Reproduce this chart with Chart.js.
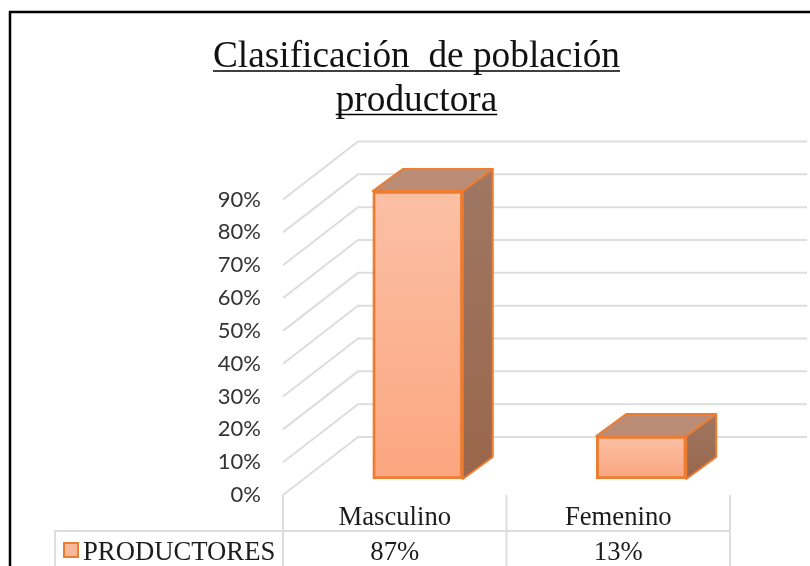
<!DOCTYPE html>
<html>
<head>
<meta charset="utf-8">
<style>html,body{margin:0;padding:0;background:#fff;overflow:hidden}#box{position:relative;width:810px;height:566px}</style>
<script src="https://cdn.jsdelivr.net/npm/chart.js@4"></script>
</head>
<body>
<div id="box"><canvas id="c" width="810" height="566"></canvas></div>
<script>
const titleLines = ['Clasificación  de población', 'productora'];
const categories = ['Masculino', 'Femenino'];
const seriesName = 'PRODUCTORES';
const seriesValues = [87, 13];
const axisTicks = [0, 10, 20, 30, 40, 50, 60, 70, 80, 90];

const SERIF = '"Liberation Serif","Times New Roman",serif';
const ORANGE = '#ED7D31';
const GRID = '#DDDDDD';
const TABLE_SHIFT = 23;            // table + wall start left of the bar slots
const WALL = {dx: 75, dy: 58, right: 807};
const BAR_DEPTH = {dx: 30, dy: 22};
const TABLE = {left: 55, rowTop: 531, axisTop: 495, bottom: 570};

function face(ctx, pts, fill) {
  ctx.beginPath();
  pts.forEach((p, i) => i ? ctx.lineTo(p[0], p[1]) : ctx.moveTo(p[0], p[1]));
  ctx.closePath();
  ctx.fillStyle = fill;
  ctx.fill();
  ctx.strokeStyle = ORANGE;
  ctx.lineWidth = 2;
  ctx.lineJoin = 'round';
  ctx.stroke();
}

const scene = {
  id: 'scene',
  beforeDatasetsDraw(chart) {
    const ctx = chart.ctx, y = chart.scales.y, area = chart.chartArea;
    ctx.save();
    // walls
    const x0 = area.left - TABLE_SHIFT, x1 = x0 + WALL.dx;
    ctx.strokeStyle = GRID;
    ctx.lineWidth = 2;
    axisTicks.forEach(t => {
      const py = y.getPixelForValue(t);
      ctx.beginPath();
      ctx.moveTo(x0, py);
      ctx.lineTo(x1, py - WALL.dy);
      ctx.lineTo(WALL.right, py - WALL.dy);
      ctx.stroke();
    });
    // bar side + top faces
    chart.getDatasetMeta(0).data.forEach(b => {
      const l = b.x - b.width / 2, r = b.x + b.width / 2, dx = BAR_DEPTH.dx, dy = BAR_DEPTH.dy;
      const side = ctx.createLinearGradient(0, b.y - dy, 0, b.base);
      side.addColorStop(0, '#9F7763');
      side.addColorStop(1, '#9A664B');
      face(ctx, [[r, b.y], [r + dx, b.y - dy], [r + dx, b.base - dy], [r, b.base]], side);
      face(ctx, [[l, b.y], [l + dx, b.y - dy], [r + dx, b.y - dy], [r, b.y]], '#BB8C76');
    });
    ctx.restore();
  },
  afterDraw(chart) {
    const ctx = chart.ctx, x = chart.scales.x, area = chart.chartArea;
    ctx.save();
    // frame
    ctx.strokeStyle = '#000';
    ctx.lineWidth = 2.5;
    ctx.beginPath();
    ctx.moveTo(10, 570);
    ctx.lineTo(10, 12);
    ctx.lineTo(812, 12);
    ctx.stroke();
    // title underlines
    const tb = chart.titleBlock;
    const cx = (tb.left + tb.right) / 2;
    ctx.font = tb.options.font.size + 'px ' + SERIF;
    ctx.strokeStyle = '#000';
    ctx.lineWidth = 1.5;
    [71, 114.5].forEach((uy, i) => {
      const w = ctx.measureText(titleLines[i]).width;
      ctx.beginPath();
      ctx.moveTo(cx - w / 2, uy);
      ctx.lineTo(cx + w / 2, uy);
      ctx.stroke();
    });
    // data table
    const step = x.getPixelForValue(1) - x.getPixelForValue(0);
    const first = area.left - TABLE_SHIFT;
    ctx.strokeStyle = GRID;
    ctx.lineWidth = 2;
    ctx.beginPath();
    ctx.moveTo(TABLE.left, TABLE.bottom);
    ctx.lineTo(TABLE.left, TABLE.rowTop);
    ctx.lineTo(first + step * categories.length, TABLE.rowTop);
    for (let i = 0; i <= categories.length; i++) {
      ctx.moveTo(first + step * i, TABLE.axisTop);
      ctx.lineTo(first + step * i, TABLE.bottom);
    }
    ctx.stroke();
    // legend key
    ctx.fillStyle = '#F7B79A';
    ctx.strokeStyle = ORANGE;
    ctx.lineWidth = 2;
    ctx.fillRect(64, 543, 14, 14);
    ctx.strokeRect(64, 543, 14, 14);
    // table texts
    ctx.fillStyle = '#1c1c1c';
    ctx.font = '26.7px ' + SERIF;
    ctx.textBaseline = 'alphabetic';
    ctx.textAlign = 'left';
    ctx.fillText(seriesName, 83, 559.5);
    ctx.textAlign = 'center';
    seriesValues.forEach((v, i) => {
      ctx.fillText(v + '%', x.getPixelForValue(i) - TABLE_SHIFT, 559.5);
    });
    ctx.restore();
  }
};

new Chart(document.getElementById('c'), {
  type: 'bar',
  data: {
    labels: categories,
    datasets: [{
      label: seriesName,
      data: seriesValues,
      yAxisID: 'yBar',
      clip: false,
      barThickness: 90,
      borderColor: ORANGE,
      borderWidth: 3,
      borderSkipped: false,
      backgroundColor(c) {
        const s = c.chart.scales.yBar;
        const fallback = '#F7B79A';
        if (!s || c.raw === undefined) return fallback;
        const top = s.getPixelForValue(c.raw), bottom = s.getPixelForValue(0);
        if (!Number.isFinite(top) || !Number.isFinite(bottom)) return fallback;
        const g = c.chart.ctx.createLinearGradient(0, top, 0, bottom);
        g.addColorStop(0, '#FBC0A5');
        g.addColorStop(1, '#FBA67F');
        return g;
      }
    }]
  },
  options: {
    responsive: false,
    animation: false,
    layout: {padding: {left: 80, right: 57, top: 0, bottom: 0}},
    plugins: {
      legend: {display: false},
      tooltip: {enabled: false},
      title: {
        display: true,
        text: titleLines,
        color: '#111',
        font: {family: SERIF, size: 37.3, weight: 'normal', lineHeight: 1.16},
        padding: {top: 36, bottom: 77}
      }
    },
    scales: {
      x: {
        grid: {display: false},
        border: {display: false},
        afterFit(s) { s.height = 71; },
        ticks: {
          color: '#1c1c1c',
          font: {family: SERIF, size: 26.7},
          labelOffset: -TABLE_SHIFT,
          padding: -1,
          maxRotation: 0,
          autoSkip: false
        }
      },
      y: {
        min: 0,
        max: 90,
        grid: {display: false},
        border: {display: false},
        afterFit(s) { s.width = 226; },
        afterBuildTicks(s) { s.ticks = axisTicks.map(v => ({value: v})); },
        ticks: {
          color: '#333333',
          font: {family: 'Lato, "Open Sans", sans-serif', size: 22},
          padding: 37,
          callback: v => v + '%'
        }
      },
      yBar: {
        display: false,
        min: -4.83,
        max: 84.44
      }
    }
  },
  plugins: [scene]
});
</script>
</body>
</html>
